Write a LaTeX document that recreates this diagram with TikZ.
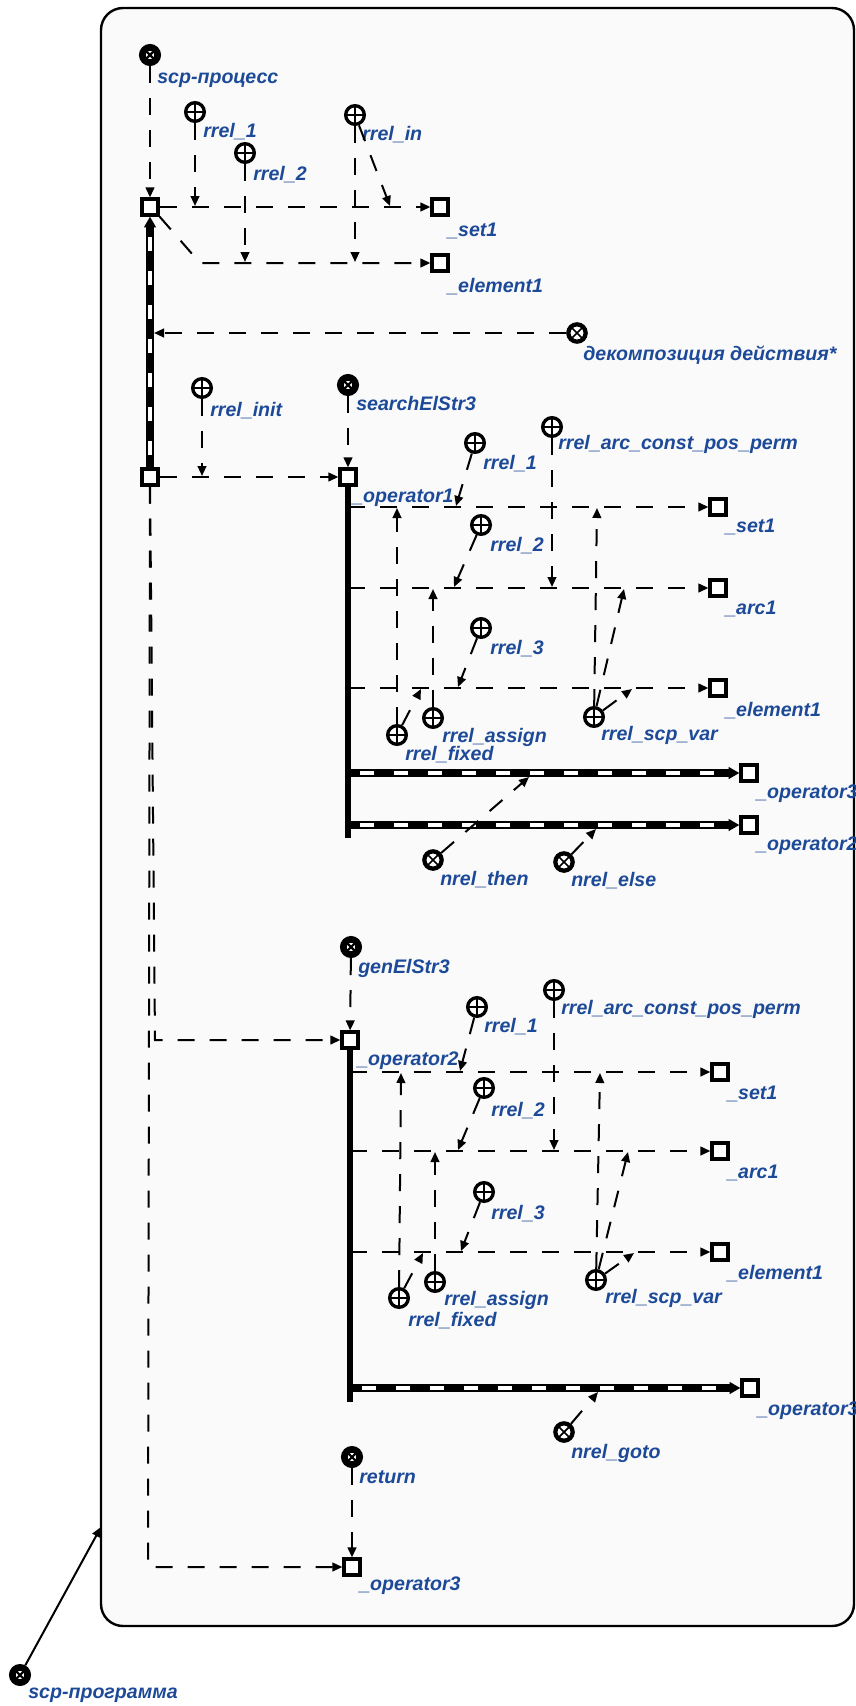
\documentclass[tikz,border=0pt]{standalone}
\usepackage{fontspec}
\setmainfont{Liberation Sans}
\usetikzlibrary{arrows.meta,calc}
\definecolor{lbl}{HTML}{1D4A98}
\definecolor{framebg}{HTML}{FAFAFA}
\begin{document}
\begin{tikzpicture}[x=0.75pt,y=-0.75pt,
  lab/.style={font=\fontsize{14.7}{16}\selectfont\bfseries\itshape, text=lbl, anchor=base west, inner sep=0pt},
  sq/.style={draw, rectangle, line width=2.6pt, fill=white, minimum size=11.8pt, inner sep=0pt},
  role/.style={draw, circle, line width=2.5pt, fill=white, minimum size=14pt, inner sep=0pt,
     path picture={\draw[line width=1.2pt] (path picture bounding box.north) -- (path picture bounding box.south) (path picture bounding box.west) -- (path picture bounding box.east);}},
  clsr/.style={draw, circle, line width=3.2pt, fill=white, minimum size=13pt, inner sep=0pt,
     path picture={\draw[line width=1.3pt] (path picture bounding box.north west) -- (path picture bounding box.south east) (path picture bounding box.south west) -- (path picture bounding box.north east);}},
  clsf/.style={draw, circle, line width=5pt, fill=white, minimum size=11.5pt, inner sep=0pt,
     path picture={\draw[line width=1.6pt] (path picture bounding box.north west) -- (path picture bounding box.south east) (path picture bounding box.south west) -- (path picture bounding box.north east);}},
  darc/.style={draw, line width=1.5pt, dash pattern=on 12.75pt off 11.25pt, -{Triangle[length=7.5pt,width=6.5pt]}},
  sarc/.style={draw, line width=1.5pt, -{Triangle[length=7.5pt,width=6.5pt]}},
  bus/.style={draw, line width=4.5pt},
  bw/.style={draw=black, line width=6.3pt, -{Triangle[length=8pt,width=8.5pt]},
     postaction={draw=white, line width=2.8pt, dash pattern=on 10.5pt off 15pt, dash phase=-6pt, shorten >=10pt, shorten <=3pt, -}}
]
\useasboundingbox (0,0) rectangle (856,1706);
\draw[line width=1.8pt, fill=framebg, rounded corners=16.5pt] (101,8) rectangle (854,1626);

% ---------- top section
\node[clsf] (proc) at (150,55) {};
\node[lab] (procl) at (157,83) {scp-процесс};
\node[sq] (s0) at (150,207) {};
\node[role] (r1a) at (195,112) {};
\node[lab] (r1al) at (203,137) {rrel\_1};
\node[role] (r2a) at (245,153) {};
\node[lab] (r2al) at (253,180) {rrel\_2};
\node[role] (ria) at (355,115) {};
\node[lab] (rial) at (362,140) {rrel\_in};
\node[sq] (set1a) at (440,207) {};
\node[lab] (set1al) at (447,236) {\_set1};
\node[sq] (el1a) at (440,263) {};
\node[lab] (el1al) at (447,292) {\_element1};

\coordinate (k1) at (200,263);
\coordinate (a1) at (195,206);
\coordinate (a2) at (245,262);
\coordinate (a3) at (355,262);
\coordinate (a4) at (390,206);

\draw[darc] (proc) -- (s0);
\draw[darc] (s0) -- (set1a);
\draw[darc] (s0.south east) -- (k1) -- (el1a);
\draw[darc] (r1a) -- (a1);
\draw[darc] (r2a) -- (a2);
\draw[darc] (ria) -- (a3);
\draw[darc] (ria) -- (a4);

% ---------- decomposition
\node[sq] (s1) at (150,477) {};
\draw[bw] (s1) -- (s0);
\node[clsr] (dec) at (577,333) {};
\node[lab] (decl) at (583,360) {декомпозиция действия*};
\coordinate (dt) at (154,333);
\draw[darc] (dec) -- (dt);

% ---------- operator1
\node[role] (rin) at (202,388) {};
\node[lab] (rinl) at (210,416) {rrel\_init};
\node[clsf] (ses) at (348,385) {};
\node[lab] (sesl) at (356,410) {searchElStr3};
\node[sq] (op1) at (348,477) {};
\node[lab] (op1l) at (352,502) {\_operator1};
\coordinate (ainit) at (202,476);
\draw[darc] (s1) -- (op1);
\draw[darc] (rin) -- (ainit);
\draw[darc] (ses) -- (op1);

\coordinate (bus1e) at (348,838);
\draw[bus] (op1.south) -- (bus1e);
\coordinate (b1a) at (348,507);
\coordinate (b1b) at (348,588);
\coordinate (b1c) at (348,688);
\coordinate (b1d) at (348,773);
\coordinate (b1e) at (348,825);
\node[sq] (set1b) at (718,507) {};
\node[lab] (set1bl) at (725,532) {\_set1};
\node[sq] (arc1b) at (718,588) {};
\node[lab] (arc1bl) at (725,614) {\_arc1};
\node[sq] (el1b) at (718,688) {};
\node[lab] (el1bl) at (725,716) {\_element1};
\node[sq] (op3b) at (749,773) {};
\node[lab] (op3bl) at (756,798) {\_operator3};
\node[sq] (op2b) at (749,825) {};
\node[lab] (op2bl) at (756,850) {\_operator2};
\draw[darc] (b1a) -- (set1b);
\draw[darc] (b1b) -- (arc1b);
\draw[darc] (b1c) -- (el1b);
\draw[bw] (b1d) -- (op3b);
\draw[bw] (b1e) -- (op2b);

\node[role] (r1b) at (475,443) {};
\node[lab] (r1bl) at (483,469) {rrel\_1};
\node[role] (racp1) at (552,427) {};
\node[lab] (racp1l) at (558,449) {rrel\_arc\_const\_pos\_perm};
\node[role] (r2b) at (481,525) {};
\node[lab] (r2bl) at (490,551) {rrel\_2};
\node[role] (r3b) at (481,628) {};
\node[lab] (r3bl) at (490,654) {rrel\_3};
\node[role] (rfixb) at (397,735) {};
\node[lab] (rfixbl) at (405,760) {rrel\_fixed};
\node[role] (rassb) at (433,718) {};
\node[lab] (rassbl) at (442,742) {rrel\_assign};
\node[role] (rscpb) at (594,717) {};
\node[lab] (rscpbl) at (601,740) {rrel\_scp\_var};
\node[clsr] (thenb) at (433,860) {};
\node[lab] (thenbl) at (440,885) {nrel\_then};
\node[clsr] (elseb) at (564,862) {};
\node[lab] (elsebl) at (571,886) {nrel\_else};

\coordinate (t1) at (456,506);
\coordinate (t2) at (552,587);
\coordinate (t3) at (454,587);
\coordinate (t4) at (458,687);
\coordinate (t5) at (397,508);
\coordinate (t6) at (421,689);
\coordinate (t7) at (433,589);
\coordinate (t8) at (597,508);
\coordinate (t9) at (624,589);
\coordinate (t10) at (632,689);
\coordinate (t11) at (529,777);
\coordinate (t12) at (596,829);
\draw[darc] (r1b) -- (t1);
\draw[darc] (racp1) -- (t2);
\draw[darc] (r2b) -- (t3);
\draw[darc] (r3b) -- (t4);
\draw[darc] (rfixb) -- (t5);
\draw[darc] (rfixb) -- (t6);
\draw[darc] (rassb) -- (t7);
\draw[darc] (rscpb) -- (t8);
\draw[darc] (rscpb) -- (t9);
\draw[darc] (rscpb) -- (t10);
\draw[darc] (thenb) -- (t11);
\draw[darc] (elseb) -- (t12);

% ---------- operator2
\node[clsf] (ges) at (351,947) {};
\node[lab] (gesl) at (358,973) {genElStr3};
\node[sq] (op2) at (350,1040) {};
\node[lab] (op2l) at (357,1065) {\_operator2};
\coordinate (k2) at (155,1040);
\draw[darc] (ges) -- (op2);
\draw[darc] (s1) -- (k2) -- (op2);

\coordinate (bus2e) at (350,1402);
\draw[bus] (op2.south) -- (bus2e);
\coordinate (b2a) at (350,1072);
\coordinate (b2b) at (350,1151);
\coordinate (b2c) at (350,1252);
\coordinate (b2d) at (350,1388);
\node[sq] (set1c) at (720,1072) {};
\node[lab] (set1cl) at (727,1099) {\_set1};
\node[sq] (arc1c) at (720,1151) {};
\node[lab] (arc1cl) at (727,1178) {\_arc1};
\node[sq] (el1c) at (720,1252) {};
\node[lab] (el1cl) at (727,1279) {\_element1};
\node[sq] (op3c) at (750,1388) {};
\node[lab] (op3cl) at (757,1415) {\_operator3};
\draw[darc] (b2a) -- (set1c);
\draw[darc] (b2b) -- (arc1c);
\draw[darc] (b2c) -- (el1c);
\draw[bw] (b2d) -- (op3c);

\node[role] (r1c) at (477,1007) {};
\node[lab] (r1cl) at (484,1032) {rrel\_1};
\node[role] (racp2) at (554,990) {};
\node[lab] (racp2l) at (561,1014) {rrel\_arc\_const\_pos\_perm};
\node[role] (r2c) at (484,1088) {};
\node[lab] (r2cl) at (491,1116) {rrel\_2};
\node[role] (r3c) at (484,1192) {};
\node[lab] (r3cl) at (491,1219) {rrel\_3};
\node[role] (rfixc) at (399,1298) {};
\node[lab] (rfixcl) at (408,1326) {rrel\_fixed};
\node[role] (rassc) at (435,1282) {};
\node[lab] (rasscl) at (444,1305) {rrel\_assign};
\node[role] (rscpc) at (596,1280) {};
\node[lab] (rscpcl) at (605,1303) {rrel\_scp\_var};
\node[clsr] (gotoc) at (564,1432) {};
\node[lab] (gotocl) at (571,1458) {nrel\_goto};

\coordinate (u1) at (460,1071);
\coordinate (u2) at (554,1150);
\coordinate (u3) at (458,1150);
\coordinate (u4) at (461,1251);
\coordinate (u5) at (401,1073);
\coordinate (u6) at (423,1253);
\coordinate (u7) at (435,1152);
\coordinate (u8) at (600,1073);
\coordinate (u9) at (628,1152);
\coordinate (u10) at (634,1253);
\coordinate (u11) at (598,1392);
\draw[darc] (r1c) -- (u1);
\draw[darc] (racp2) -- (u2);
\draw[darc] (r2c) -- (u3);
\draw[darc] (r3c) -- (u4);
\draw[darc] (rfixc) -- (u5);
\draw[darc] (rfixc) -- (u6);
\draw[darc] (rassc) -- (u7);
\draw[darc] (rscpc) -- (u8);
\draw[darc] (rscpc) -- (u9);
\draw[darc] (rscpc) -- (u10);
\draw[darc] (gotoc) -- (u11);

% ---------- bottom
\node[clsf] (ret) at (352,1457) {};
\node[lab] (retl) at (359,1483) {return};
\node[sq] (op3d) at (352,1567) {};
\node[lab] (op3dl) at (359,1590) {\_operator3};
\coordinate (k3) at (148,1567);
\draw[darc] (ret) -- (op3d);
\draw[darc] (s1) -- (k3) -- (op3d);

\node[clsf] (prog) at (20,1675) {};
\node[lab] (progl) at (28,1698) {scp-программа};
\coordinate (fr) at (101,1527);
\draw[sarc] (prog) -- (fr);
\end{tikzpicture}
\end{document}
